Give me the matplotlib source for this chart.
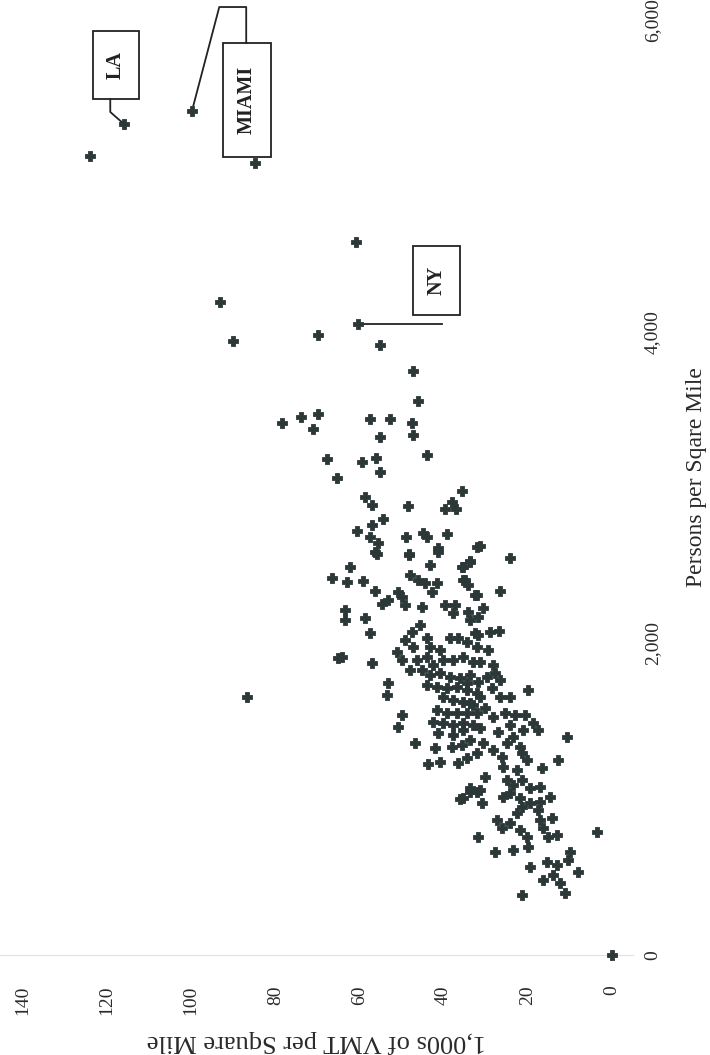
import matplotlib

matplotlib.use("Agg")

import matplotlib.pyplot as plt
from matplotlib.patches import Rectangle

plt.rcParams["font.family"] = ["Liberation Serif", "DejaVu Serif"]

# thousands of VMT per square mile, persons per square mile
vmt = [
    0.0, 115.9, 124.0, 99.8, 84.8, 60.3, 60.8, 93.1, 90.0, 69.8, 55.1, 47.3,
    78.4, 73.9, 69.8, 71.0, 67.7, 65.3,
    46.1, 57.5, 52.7, 47.5, 47.3, 55.1, 43.9, 59.4, 56.1, 55.1, 35.6, 58.7,
    57.0, 48.5, 39.7, 38.0, 37.1, 54.4, 60.6, 57.0, 57.5, 55.6, 56.3, 48.9,
    44.9, 43.9, 39.2, 41.3, 32.1, 48.2, 66.5, 86.7, 65.1,
    55.8, 48.2, 41.3, 62.2, 43.2, 35.6, 33.7, 62.9, 59.1, 48.0, 46.1, 44.4,
    41.6, 35.4, 34.2, 56.3, 50.8, 49.9, 53.2, 54.6, 42.8, 49.2, 45.1, 39.7,
    37.3, 37.8, 32.1, 34.2, 63.4, 63.4, 58.7, 45.6, 47.5, 57.5, 33.7, 32.5,
    49.2, 47.3, 43.9, 43.2, 40.9, 38.5, 36.6, 34.4, 32.1, 51.1, 49.9, 46.3,
    43.9, 42.5, 40.1, 37.8, 35.4, 33.0, 64.1, 57.0, 48.0, 45.1, 43.2, 40.9,
    38.5, 36.1, 33.7, 31.8, 43.9, 41.6, 39.2, 36.8, 34.4, 32.1, 53.2, 53.4,
    40.1, 37.8, 35.4, 33.0, 41.6, 39.2, 36.8, 34.4, 32.1, 49.9, 50.8, 42.5,
    40.1, 37.8, 35.4, 33.0,
    46.8, 41.3, 42.0, 43.7, 40.9, 37.8, 35.4, 33.7, 35.6, 34.4, 32.1, 38.0,
    36.6, 33.7, 32.1, 36.1, 31.8,
    31.4, 24.2, 33.7, 35.4, 26.6, 32.5, 34.9, 30.6, 31.8, 29.0, 26.8, 31.8,
    29.5, 31.4, 28.3, 27.8, 26.6, 29.7, 34.4, 28.5, 26.6, 24.2, 20.0, 31.4,
    33.7, 30.2, 25.4, 23.0, 20.7, 28.3, 18.8, 17.6, 21.1, 24.2, 31.4, 27.1,
    23.5, 24.9, 21.9, 10.7, 30.6, 28.3, 26.1, 21.4, 20.2, 16.6, 12.8, 25.9,
    22.6, 30.2, 33.7, 31.4, 35.4, 30.9, 24.9, 23.5, 21.4, 19.5, 17.1, 14.7,
    24.2, 25.9, 21.9, 17.1, 19.5, 21.4, 17.6, 22.6, 27.3, 26.1, 24.2, 17.1,
    14.3, 16.4, 21.9, 20.2, 15.2, 13.1, 3.6, 23.5, 27.8, 20.0, 10.0, 19.5,
    15.4, 13.1, 10.5, 8.1, 16.4, 14.0, 12.4, 11.2, 21.4,
]
density = [
    0, 5333, 5128, 5417, 5083, 4050, 4576, 4191, 3941, 3979, 3915, 3748,
    3414, 3453, 3472, 3376, 3183, 3061,
    3556, 3440, 3440, 3414, 3337, 3325, 3209, 3164, 3190, 3100, 2978, 2939,
    2888, 2882, 2862, 2907, 2862, 2798, 2721, 2760, 2683, 2644, 2586, 2683,
    2708, 2683, 2702, 2612, 2619, 2574, 2420, 1656, 1906,
    2574, 2567, 2586, 2490, 2503, 2490, 2522, 2394, 2400, 2439, 2407, 2388,
    2388, 2407, 2375, 2336, 2330, 2298, 2278, 2253, 2330, 2246, 2233, 2246,
    2246, 2195, 2310, 2201, 2214, 2150, 2163, 2118, 2073, 2067, 2150, 2067,
    2022, 1977, 2035, 1977, 1957, 2035, 2035, 2009, 1977, 1945, 1893, 1893,
    1913, 1861, 1893, 1893, 1913, 1880, 1913, 1874, 1829, 1829, 1797, 1810,
    1784, 1778, 1797, 1752, 1733, 1720, 1714, 1720, 1701, 1682, 1746, 1669,
    1656, 1637, 1624, 1604, 1572, 1553, 1553, 1553, 1553, 1540, 1463, 1495,
    1489, 1476, 1489, 1476,
    1361, 1425, 1329, 1226, 1239, 1412, 1444, 1380, 1348, 1264, 1296, 1335,
    1232, 1046, 1046, 1001, 757,
    2625, 2548, 2529, 2490, 2336, 2310, 2407, 2227, 2169, 2073, 2079, 2054,
    1957, 1880, 1861, 1810, 1765, 1784, 1746, 1714, 1656, 1656, 1701, 1656,
    1617, 1585, 1553, 1540, 1540, 1527, 1489, 1444, 1444, 1476, 1457, 1431,
    1399, 1361, 1335, 1399, 1361, 1316, 1271, 1296, 1252, 1200, 1252, 1207,
    1187, 1142, 1072, 1059, 1008, 976, 1123, 1091, 1123, 1072, 1078, 1014,
    1040, 1014, 1008, 982, 976, 950, 931, 911, 866, 815, 847, 866,
    879, 815, 802, 757, 757, 770, 789, 674, 661, 693, 661, 565,
    597, 578, 610, 533, 481, 513, 462, 398, 385,
]

vmt_ticks = [0, 20, 40, 60, 80, 100, 120, 140]
density_ticks = [0, 2000, 4000, 6000]
density_labels = ["0", "2,000", "4,000", "6,000"]

ink = "#2c3838"

fig = plt.figure(figsize=(7.1, 10.55), dpi=100)
ax = fig.add_axes([0, 100 / 1055, 633 / 710, 955 / 1055])
ax.set_xlim(145.4, -5)
ax.set_ylim(0, 6130)

ax.scatter(vmt, density, marker="P", s=46, c=ink, edgecolors=ink, linewidths=0.6,
           clip_on=False, zorder=3)

# the scanned page is turned on its side: density runs up, VMT runs left
ax.set_xticks(vmt_ticks)
ax.set_xticklabels([str(t) for t in vmt_ticks], rotation=90, fontsize=14)
ax.yaxis.tick_right()
ax.set_yticks(density_ticks)
ax.set_yticklabels(density_labels, rotation=90, fontsize=14, va="center")
ax.tick_params(axis="x", length=0, pad=22, colors="#2a2a2a")
ax.tick_params(axis="y", length=0, pad=8, colors="#2a2a2a")

for side in ["top", "left", "right"]:
    ax.spines[side].set_visible(False)
ax.spines["bottom"].set_color("#e2e2e2")
ax.spines["bottom"].set_linewidth(0.8)

ax.set_xlabel("1,000s of VMT per Square Mile", fontsize=19, rotation=180, color="#2a2a2a")
ax.xaxis.set_label_coords(0.5, -0.079)
ax.yaxis.set_label_position("right")
ax.set_ylabel("Persons per Sqare Mile", fontsize=17, rotation=90, color="#2a2a2a")
ax.yaxis.set_label_coords(1.083, 0.5)

# labelled cities: box (vmt, density, width, height), leader path
boxes = [
    ("LA", 112.4, 5494, 10.9, 437, [119.2, 119.2, 115.9], [5494, 5411, 5333]),
    ("MIAMI", 81.0, 5122, 11.4, 732, [86.9, 86.9, 93.3, 99.8], [5854, 6085, 6085, 5417]),
    ("NY", 36.1, 4108, 11.2, 443, [40.4, 60.3], [4050, 4050]),
]
for name, x0, y0, w, h, lx, ly in boxes:
    ax.add_patch(Rectangle((x0, y0), w, h, fill=False, edgecolor="#222222", lw=1.3, clip_on=False))
    ax.text(x0 + w / 2, y0 + h / 2, name, rotation=90, ha="center", va="center",
            fontsize=14.5, fontweight="bold", color="#222222")
    ax.plot(lx, ly, color="#222222", lw=1.3, clip_on=False)

fig.savefig("out.png", dpi=100)
